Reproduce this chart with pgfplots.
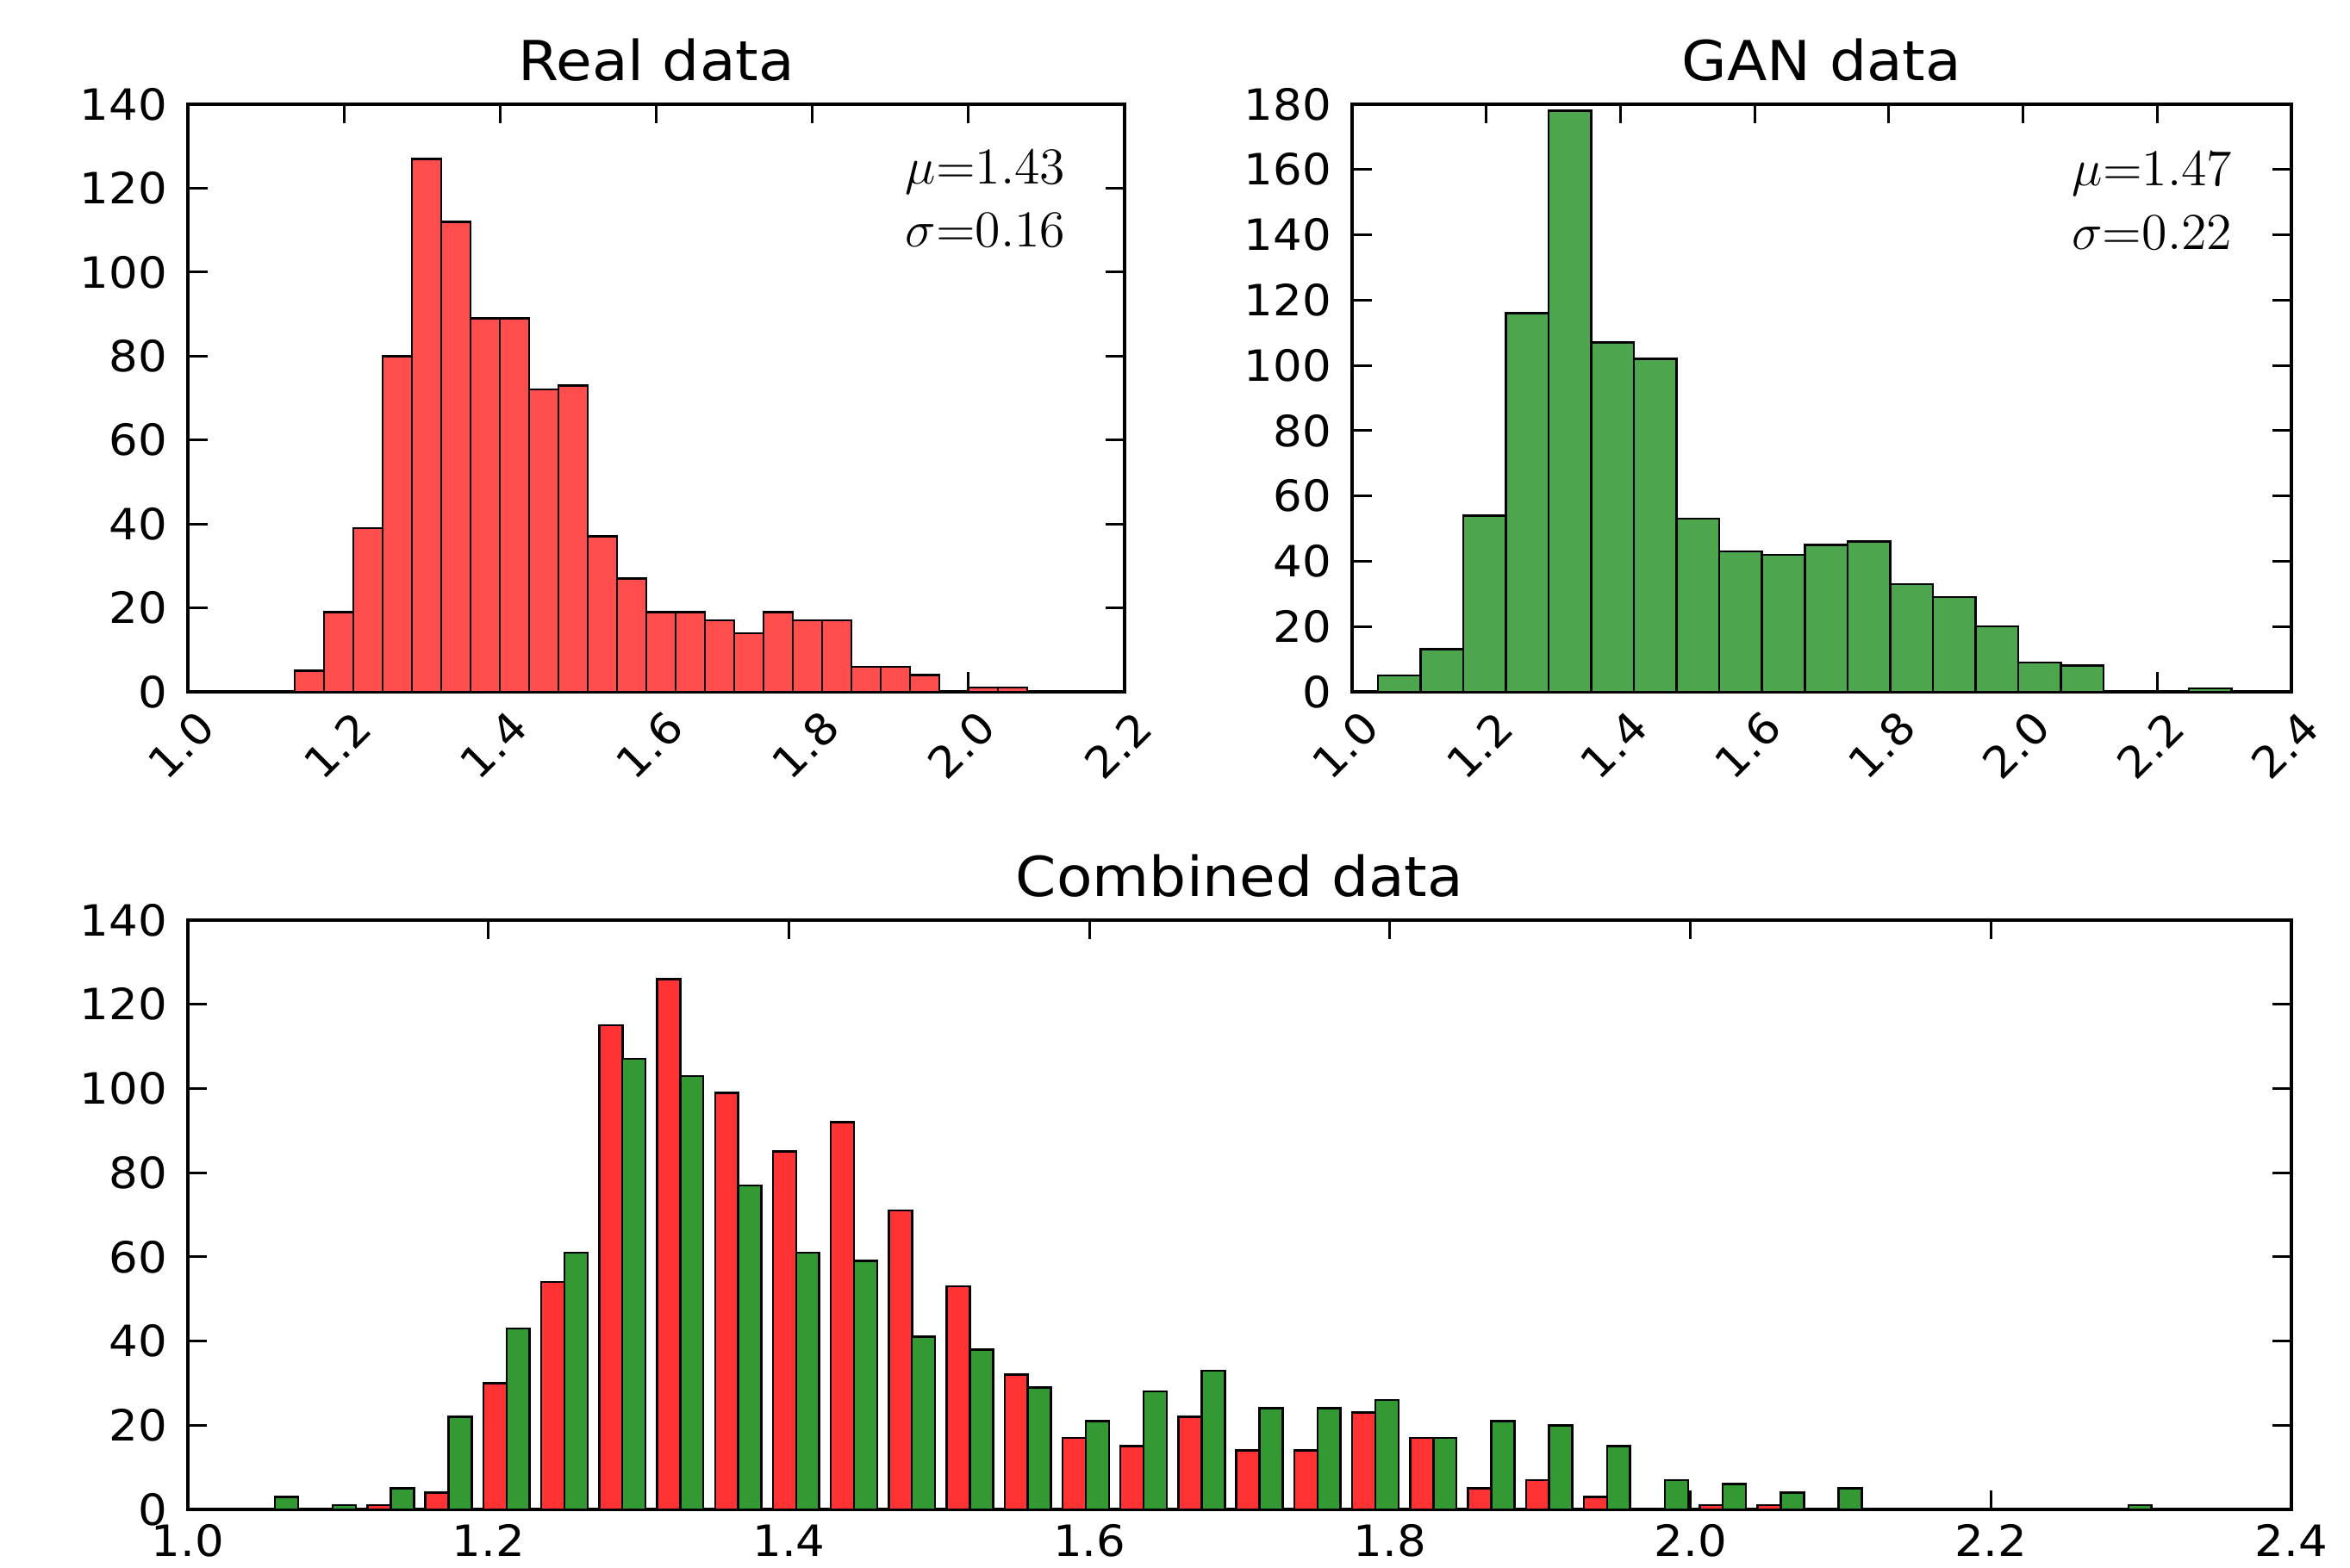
\documentclass[border=0pt]{standalone}
\usepackage{fontspec}
\setmainfont{DejaVu Sans}[FakeStretch=1.06]
\usepackage{pgfplots}
\pgfplotsset{compat=1.18}

\definecolor{realtop}{RGB}{255,77,77}
\definecolor{gantop}{RGB}{77,166,77}
\definecolor{realbot}{RGB}{255,51,51}
\definecolor{ganbot}{RGB}{51,153,51}

\pgfplotsset{
  hist/.style={
    scale only axis,
    anchor=south west,
    axis line style={line width=0.7pt},
    tick style={black, line width=0.6pt},
    major tick length=4.5pt,
    tick align=inside,
    ymin=0,
    /pgf/number format/assume math mode=true,
    tick label style={font=\fontsize{10}{12}\selectfont},
    yticklabel style={xshift=-1.3pt},
    xticklabel style={/pgf/number format/fixed, /pgf/number format/fixed zerofill,
                      /pgf/number format/precision=1},
    title style={at={(0.5,1)}, anchor=base, yshift=-0.6pt,
                 font=\fontsize{12.8}{15}\selectfont},
  },
  rotlabels/.style={
    xticklabel style={xshift=-1.6pt, yshift=-12.4pt, rotate=45, anchor=center},
  },
}
\tikzset{stat/.style={anchor=base east, font=\fontsize{13}{15}\selectfont}}

\begin{document}
\begin{tikzpicture}
\useasboundingbox (0,0) rectangle (545.4pt,363.8pt);

% real data
\begin{axis}[hist, rotlabels,
  at={(43.6pt,203.2pt)}, width=217.4pt, height=136.4pt,
  xmin=1.0, xmax=2.2, ymax=140,
  xtick={1.0,1.2,1.4,1.6,1.8,2.0,2.2},
  ytick={0,20,40,60,80,100,120,140},
  title={Real data}]
\addplot[ybar interval, fill=realtop, draw=black, line width=0.5pt] coordinates {
(1.1370,5) (1.1745,19) (1.2120,39) (1.2496,80) (1.2871,127)
(1.3246,112) (1.3621,89) (1.3996,89) (1.4372,72) (1.4747,73)
(1.5122,37) (1.5497,27) (1.5872,19) (1.6248,19) (1.6623,17)
(1.6998,14) (1.7373,19) (1.7748,17) (1.8124,17) (1.8499,6)
(1.8874,6) (1.9249,4) (1.9624,0) (2.0000,1) (2.0375,1)
(2.0750,1)
};
\node[stat] at (rel axis cs:0.953,0.865) {$\mu{=}1.43$};
\node[stat] at (rel axis cs:0.953,0.758) {$\sigma{=}0.16$};
\end{axis}

% GAN data
\begin{axis}[hist, rotlabels,
  at={(313.8pt,203.2pt)}, width=218pt, height=136.4pt,
  xmin=1.0, xmax=2.4, ymax=180,
  xtick={1.0,1.2,1.4,1.6,1.8,2.0,2.2,2.4},
  ytick={0,20,40,60,80,100,120,140,160,180},
  title={GAN data}]
\addplot[ybar interval, fill=gantop, draw=black, line width=0.5pt] coordinates {
(1.0386,5) (1.1022,13) (1.1658,54) (1.2294,116) (1.2930,178)
(1.3566,107) (1.4202,102) (1.4838,53) (1.5474,43) (1.6110,42)
(1.6746,45) (1.7382,46) (1.8018,33) (1.8654,29) (1.9290,20)
(1.9926,9) (2.0562,8) (2.1198,0) (2.1834,0) (2.2470,1)
(2.3106,1)
};
\node[stat] at (rel axis cs:0.953,0.862) {$\mu{=}1.47$};
\node[stat] at (rel axis cs:0.953,0.753) {$\sigma{=}0.22$};
\end{axis}

% combined
\begin{axis}[hist,
  at={(43.6pt,13.4pt)}, width=488.2pt, height=136.8pt,
  xmin=1.0, xmax=2.4, ymax=140,
  xtick={1.0,1.2,1.4,1.6,1.8,2.0,2.2,2.4},
  ytick={0,20,40,60,80,100,120,140},
  title={Combined data}]
\addplot[ybar, bar width=0.01542, bar shift=0pt, fill=realbot, draw=black, line width=0.5pt] coordinates {
(1.0502,0) (1.0887,0) (1.1273,1) (1.1658,4) (1.2044,30)
(1.2429,54) (1.2815,115) (1.3200,126) (1.3586,99) (1.3971,85)
(1.4357,92) (1.4742,71) (1.5128,53) (1.5513,32) (1.5899,17)
(1.6284,15) (1.6670,22) (1.7055,14) (1.7441,14) (1.7826,23)
(1.8212,17) (1.8597,5) (1.8983,7) (1.9368,3) (1.9754,0)
(2.0139,1) (2.0525,1) (2.0910,0) (2.1296,0) (2.1681,0)
(2.2067,0) (2.2452,0) (2.2838,0)
};
\addplot[ybar, bar width=0.01542, bar shift=0pt, fill=ganbot, draw=black, line width=0.5pt] coordinates {
(1.0656,3) (1.1041,1) (1.1427,5) (1.1812,22) (1.2198,43)
(1.2583,61) (1.2969,107) (1.3354,103) (1.3740,77) (1.4125,61)
(1.4511,59) (1.4896,41) (1.5282,38) (1.5667,29) (1.6053,21)
(1.6438,28) (1.6824,33) (1.7209,24) (1.7595,24) (1.7980,26)
(1.8366,17) (1.8751,21) (1.9137,20) (1.9522,15) (1.9908,7)
(2.0293,6) (2.0679,4) (2.1064,5) (2.1450,0) (2.1835,0)
(2.2221,0) (2.2606,0) (2.2992,1)
};
\end{axis}
\end{tikzpicture}
\end{document}
